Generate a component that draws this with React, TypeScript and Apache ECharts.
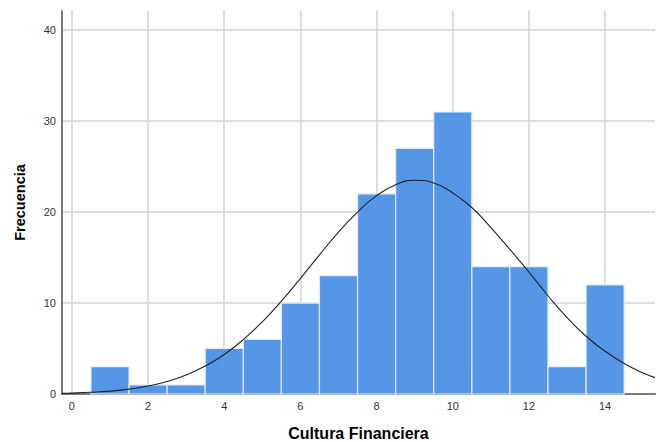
import React, { useEffect, useRef } from "react";
import * as echarts from "echarts";

const binCenters = [1, 2, 3, 4, 5, 6, 7, 8, 9, 10, 11, 12, 13, 14];
const frequencies = [3, 1, 1, 5, 6, 10, 13, 22, 27, 31, 14, 14, 3, 12];

const curveX = [-0.26, 0, 0.5, 1, 1.5, 2, 2.5, 3, 3.5, 4, 4.5, 5, 5.5, 6, 6.5, 7, 7.5, 8, 8.5, 9, 9.5, 10, 10.5, 11, 11.5, 12, 12.5, 13, 13.5, 14, 14.5, 15, 15.31];
const curveY = [0.07, 0.1, 0.19, 0.32, 0.54, 0.88, 1.38, 2.09, 3.07, 4.35, 5.98, 7.94, 10.2, 12.7, 15.3, 17.8, 20.0, 21.8, 23.0, 23.5, 23.2, 22.1, 20.5, 18.3, 15.9, 13.4, 10.8, 8.4, 6.35, 4.7, 3.35, 2.3, 1.8];

const xTickLabels = ["0", "2", "4", "6", "8", "10", "12", "14"];
const yTickLabels = ["0", "10", "20", "30", "40"];

export default function App() {
  const ref = useRef<HTMLDivElement>(null);
  useEffect(() => {
    if (!ref.current) return;
    const chart = echarts.init(ref.current, null, { renderer: "svg" });
    const font = "'Liberation Sans', Arial, sans-serif";
    chart.setOption({
      animation: false,
      backgroundColor: "#ffffff",
      grid: { left: 62, right: 3, top: 11, bottom: 48, containLabel: false, outerBoundsMode: "none" },
      xAxis: {
        type: "value",
        min: -0.26,
        max: 15.31,
        splitNumber: 8,
        name: "Cultura Financiera",
        nameLocation: "middle",
        nameGap: 31,
        nameTextStyle: { fontFamily: font, fontSize: 16, fontWeight: "bold", color: "#000" },
        axisLine: { show: true, onZero: false, lineStyle: { color: "#7a7a7a", width: 2 } },
        axisTick: { show: false },
        axisLabel: {
          fontFamily: font,
          fontSize: 11,
          color: "#333",
          margin: 6,
          showMinLabel: false,
          showMaxLabel: false,
          formatter: (v: number) => (xTickLabels.includes(String(v)) ? String(v) : ""),
        },
        splitLine: { show: true, showMinLine: false, showMaxLine: false, lineStyle: { color: "#d2d2d2", width: 1.5 } },
      },
      yAxis: {
        type: "value",
        min: 0,
        max: 42.1,
        interval: 10,
        name: "Frecuencia",
        nameLocation: "middle",
        nameGap: 35,
        nameTextStyle: { fontFamily: font, fontSize: 14.5, fontWeight: "bold", color: "#000" },
        axisLine: { show: true, onZero: false, lineStyle: { color: "#7a7a7a", width: 2 } },
        axisTick: { show: false },
        axisLabel: {
          fontFamily: font,
          fontSize: 11,
          color: "#333",
          margin: 6,
          showMaxLabel: false,
          formatter: (v: number) => (yTickLabels.includes(String(v)) ? String(v) : ""),
        },
        splitLine: { show: true, showMinLine: false, showMaxLine: false, lineStyle: { color: "#d2d2d2", width: 1.5 } },
      },
      series: [
        {
          type: "custom",
          data: binCenters.map((c, i) => [c, frequencies[i]]),
          renderItem: (params: any, api: any) => {
            const x = api.value(0);
            const y = api.value(1);
            const p0 = api.coord([x - 0.5, y]);
            const p1 = api.coord([x + 0.5, 0]);
            return {
              type: "rect",
              shape: { x: p0[0], y: p0[1], width: p1[0] - p0[0], height: p1[1] - p0[1] },
              style: { fill: "#5596e6", stroke: "#e3edfb", lineWidth: 1.2 },
            };
          },
          z: 2,
        },
        {
          type: "line",
          data: curveX.map((x, i) => [x, curveY[i]]),
          smooth: true,
          showSymbol: false,
          lineStyle: { color: "#222", width: 1.1 },
          z: 3,
        },
      ],
    });
    return () => chart.dispose();
  }, []);
  return <div ref={ref} style={{ position: "fixed", left: 0, top: 0, width: 658, height: 442 }} />;
}
